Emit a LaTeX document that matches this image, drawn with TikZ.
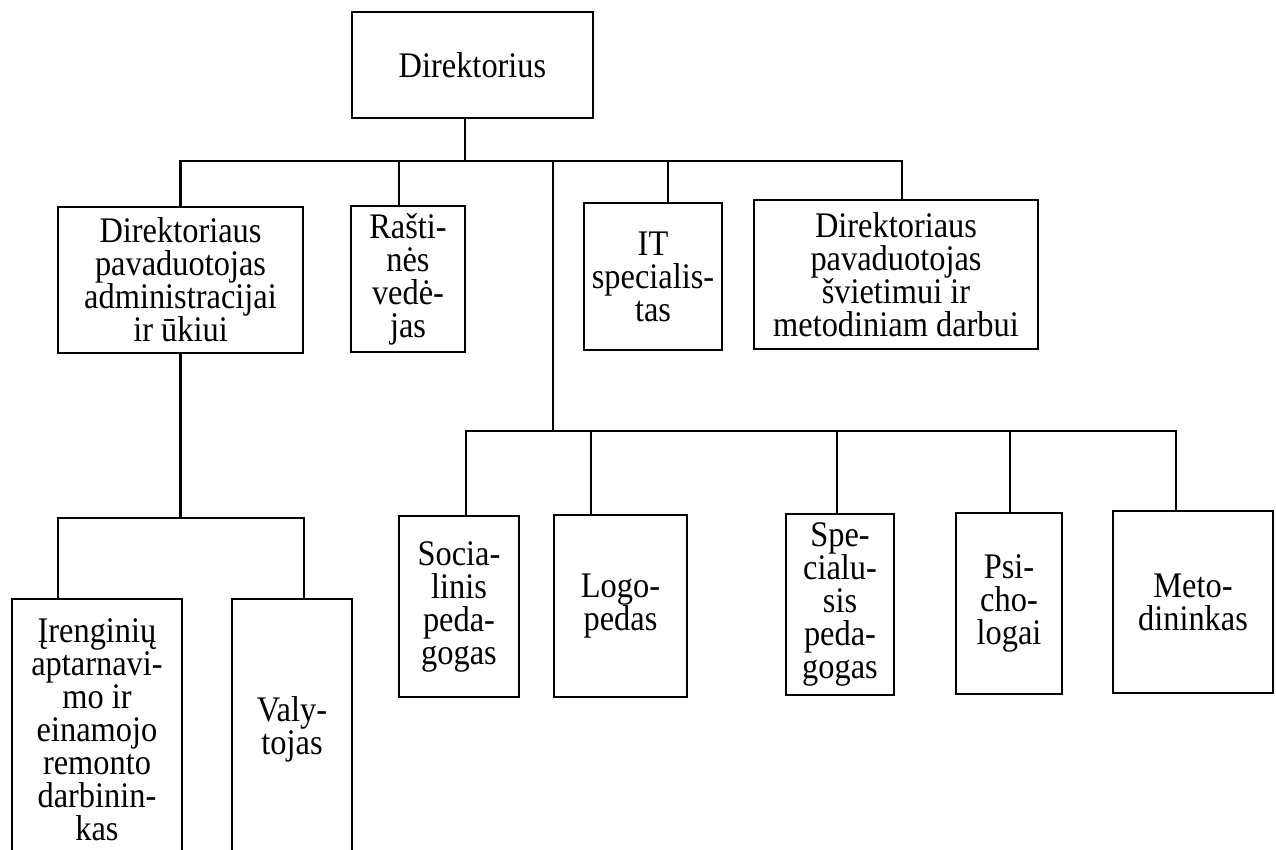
\documentclass[tikz,border=0pt]{standalone}
\usepackage{fontspec}
\newfontfamily\lbl{Liberation Serif}[FakeStretch=0.9]
\begin{document}
\begin{tikzpicture}[x=1pt,y=-1pt,
  box/.style={draw, line width=2.2pt, inner sep=0pt, align=center,
    font=\fontsize{36}{33}\selectfont\lbl},
  conn/.style={line width=2.2pt}]
\useasboundingbox (0,0) rectangle (1276,849);
\clip (0,0) rectangle (1276,849);
% top level
\node[box, minimum width=241pt, minimum height=106pt] (dir) at (472.5,65) {Direktorius};
% second level
\node[box, minimum width=245pt, minimum height=146pt] (adm) at (180.5,280) {Direktoriaus\\pavaduotojas\\administracijai\\ir ūkiui};
\node[box, minimum width=114pt, minimum height=146pt] (ras) at (408,279) {Rašti-\\nės\\vedė-\\jas};
\node[box, minimum width=138pt, minimum height=147pt] (it) at (653,276.5) {IT\\specialis-\\tas};
\node[box, minimum width=284pt, minimum height=149pt] (sv) at (896,274.5) {Direktoriaus\\pavaduotojas\\švietimui ir\\metodiniam darbui};
% right group
\node[box, minimum width=120pt, minimum height=181pt] (soc) at (459,606.5) {Socia-\\linis\\peda-\\gogas};
\node[box, minimum width=133pt, minimum height=182pt] (logo) at (620.5,606) {Logo-\\pedas};
\node[box, minimum width=108pt, minimum height=181pt] (spec) at (840,604.5) {Spe-\\cialu-\\sis\\peda-\\gogas};
\node[box, minimum width=106pt, minimum height=181pt] (psi) at (1009,603.5) {Psi-\\cho-\\logai};
\node[box, minimum width=160pt, minimum height=182pt] (met) at (1193,602) {Meto-\\dininkas};
% left group
\node[box, minimum width=170pt, minimum height=261pt] (iren) at (97,729.5) {Įrenginių\\aptarnavi-\\mo ir\\einamojo\\remonto\\darbinin-\\kas};
\node[box, minimum width=120pt, minimum height=261pt] (valy) at (292,729.5) {Valy-\\tojas};
% connectors
\coordinate (bus1) at (465,161);
\coordinate (bus2) at (553,431);
\coordinate (bus3) at (181,518);
\draw[conn] (dir.south -| bus1) -- (bus1);
\draw[conn] (adm.north) |- (bus1);
\draw[conn] ([xshift=6pt]sv.north) |- (bus1);
\draw[conn] ([xshift=-9pt]ras.north) -- ([xshift=-9pt]ras.north |- bus1);
\draw[conn] ([xshift=15pt]it.north) -- ([xshift=15pt]it.north |- bus1);
\draw[conn] (bus2 |- bus1) -- (bus2);
\draw[conn] ([xshift=7pt]soc.north) |- (bus2) -| ([xshift=-17pt]met.north);
\draw[conn] ([xshift=-29.5pt]logo.north) -- ([xshift=-29.5pt]logo.north |- bus2);
\draw[conn] ([xshift=-3pt]spec.north) -- ([xshift=-3pt]spec.north |- bus2);
\draw[conn] ([xshift=1pt]psi.north) -- ([xshift=1pt]psi.north |- bus2);
\draw[conn] (adm.south) -- (adm.south |- bus3);
\draw[conn] ([xshift=-39pt]iren.north) |- (bus3) -| ([xshift=12pt]valy.north);
\end{tikzpicture}
\end{document}
